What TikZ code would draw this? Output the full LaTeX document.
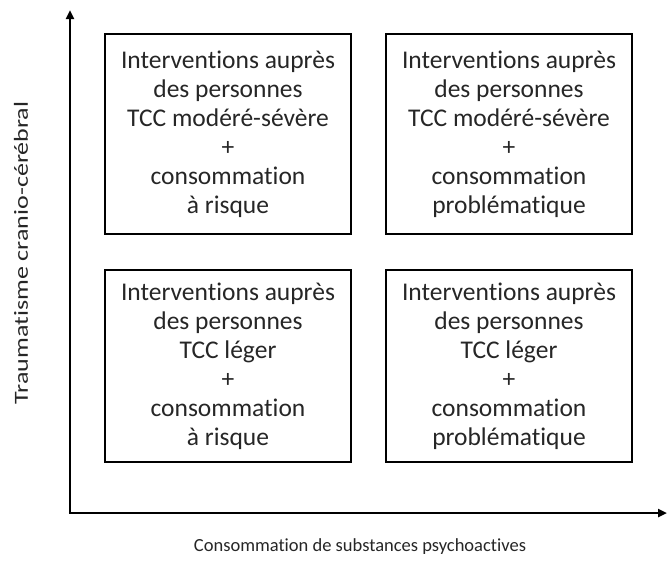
\documentclass[tikz,border=0pt]{standalone}
\usepackage{fontspec}
\setmainfont[Ligatures=CommonOff]{Carlito}
\usetikzlibrary{arrows.meta}
\begin{document}
\begin{tikzpicture}[x=1pt,y={(0pt,-1pt)},
  quad/.style={draw=black,line width=2pt,minimum width=246pt,
    align=center,inner sep=0pt,text=black!85,
    font=\fontsize{25.5}{29}\selectfont},
  axis/.style={line width=2.4pt,-{Triangle[length=9pt,width=8pt]}},
  axlabel/.style={font=\fontsize{18.5}{22}\selectfont,text=black!85}]
\useasboundingbox (0,0) rectangle (667,563);
\coordinate (O) at (70,513);
\coordinate (Ytop) at (70,10);
\coordinate (Xend) at (667,513);
\draw[axis] (O) -- (Ytop);
\draw[axis] ([xshift=-1.2pt]O) -- (Xend);
\node[quad,minimum height=200pt] (tl) at (228,134) {Interventions auprès\\des personnes\\TCC modéré-sévère\\+\\consommation\\à risque};
\node[quad,minimum height=200pt] (tr) at (509,134) {Interventions auprès\\des personnes\\TCC modéré-sévère\\+\\consommation\\problématique};
\node[quad,minimum height=192pt] (bl) at (228,366) {Interventions auprès\\des personnes\\TCC léger\\+\\consommation\\à risque};
\node[quad,minimum height=192pt] (br) at (509,366) {Interventions auprès\\des personnes\\TCC léger\\+\\consommation\\problématique};
\node[axlabel] (xl) at (360,547) {Consommation de substances psychoactives};
\node[axlabel,rotate=90] (yl) at (21,253) {\scalebox{1.3}[1]{\fontsize{20}{22}\selectfont Traumatisme cranio-cérébral}};
\end{tikzpicture}
\end{document}
